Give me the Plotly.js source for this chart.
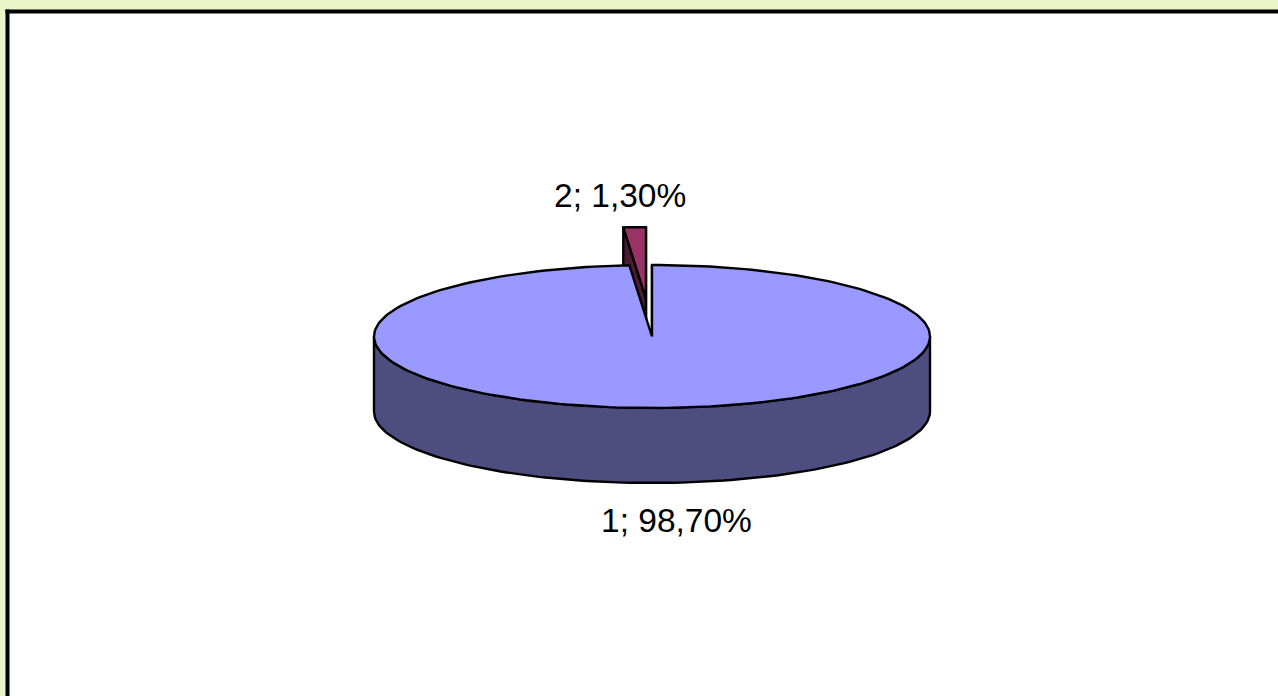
<!DOCTYPE html>
<html>
<head>
<meta charset="utf-8">
<script src="https://cdn.plot.ly/plotly-3.0.1.min.js"></script>
<style>
  html, body { margin: 0; padding: 0; overflow: hidden; background: #e9f4c9; }
  #chart { width: 1278px; height: 696px; }
</style>
</head>
<body>
<div id="chart"></div>
<script>
// ---- data ----
const categories = ['1', '2'];
const shares = [98.7, 1.3];          // percent
const explode = [0, 0.53];            // explode factor per slice

// ---- style / layout config ----
const topColors  = ['#9999FF', '#993366'];
const sideColors = ['#4D4D80', '#4D1A33'];
const pie = { cx: 652, cy: 336.5, a: 278, b: 71.5, depth: 75 };
const labelAnchors = [[676, 520.5], [620, 195]];

const DEG = Math.PI / 180;
const total = shares.reduce((s, v) => s + v, 0);

// slices: angles measured clockwise from 12 o'clock
let acc = 0;
const slices = shares.map((v, i) => {
  const t0 = acc / total * 360;
  acc += v;
  const t1 = acc / total * 360;
  const tm = (t0 + t1) / 2;
  const ox = pie.a * explode[i] * Math.sin(tm * DEG);
  const oy = -pie.b * explode[i] * Math.cos(tm * DEG);
  return { i, t0, t1, tm, ox, oy };
});

function P(s, t, down) {
  return [pie.cx + s.ox + pie.a * Math.sin(t * DEG),
          pie.cy + s.oy - pie.b * Math.cos(t * DEG) + (down ? pie.depth : 0)];
}
function C(s, down) {
  return [pie.cx + s.ox, pie.cy + s.oy + (down ? pie.depth : 0)];
}
function arc(s, ta, tb, down, n) {
  const pts = [];
  n = n || Math.max(2, Math.ceil(Math.abs(tb - ta) / 1.5));
  for (let k = 0; k <= n; k++) pts.push(P(s, ta + (tb - ta) * k / n, down));
  return pts;
}
const traces = [];
function poly(pts, fill) {
  pts = pts.concat([pts[0]]);
  traces.push({
    type: 'scatter', mode: 'lines', fill: 'toself', fillcolor: fill,
    x: pts.map(p => p[0]), y: pts.map(p => p[1]),
    line: { color: '#000000', width: 2.4 }, hoverinfo: 'skip', showlegend: false
  });
}

// draw back slices first
const order = slices.slice().sort((p, q) => Math.cos(q.tm * DEG) - Math.cos(p.tm * DEG));
order.forEach(s => {
  // radial faces
  if (Math.sin(s.t0 * DEG) <= 1e-9) {
    poly([C(s, false), P(s, s.t0, false), P(s, s.t0, true), C(s, true)], sideColors[s.i]);
  }
  if (Math.sin(s.t1 * DEG) >= -1e-9) {
    poly([C(s, false), P(s, s.t1, false), P(s, s.t1, true), C(s, true)], sideColors[s.i]);
  }
  // outer wall (front half only: 90..270)
  const w0 = Math.max(s.t0, 90), w1 = Math.min(s.t1, 270);
  if (w1 > w0) {
    const top = arc(s, w0, w1, false);
    const bot = arc(s, w1, w0, true);
    poly(top.concat(bot), sideColors[s.i]);
  }
  // top face
  poly([C(s, false)].concat(arc(s, s.t0, s.t1, false)), topColors[s.i]);
});

const annotations = slices.map(s => ({
  x: labelAnchors[s.i][0], y: labelAnchors[s.i][1], xref: 'x', yref: 'y',
  text: categories[s.i] + '; ' + shares[s.i].toFixed(2).replace('.', ',') + '%',
  showarrow: false, xanchor: 'center', yanchor: 'middle',
  font: { family: 'Liberation Sans, Arial, sans-serif', size: 33.5, color: '#000000' }
}));

const W = 1278, H = 696;
const bx = 7.5 / W, by = 1 - 11.5 / H;
const layout = {
  width: W, height: H,
  margin: { l: 0, r: 0, t: 0, b: 0 },
  paper_bgcolor: '#e9f4c9', plot_bgcolor: 'rgba(0,0,0,0)',
  xaxis: { range: [0, W], visible: false, fixedrange: true },
  yaxis: { range: [H, 0], visible: false, fixedrange: true },
  showlegend: false,
  shapes: [
    { type: 'rect', xref: 'paper', yref: 'paper', x0: bx, x1: 1, y0: 0, y1: by,
      fillcolor: '#ffffff', line: { width: 0 }, layer: 'below' },
    { type: 'line', xref: 'paper', yref: 'paper', x0: bx, x1: bx, y0: 0, y1: by + 2 / H,
      line: { color: '#000000', width: 4 }, layer: 'below' },
    { type: 'line', xref: 'paper', yref: 'paper', x0: bx - 2 / W, x1: 1, y0: by, y1: by,
      line: { color: '#000000', width: 4 }, layer: 'below' }
  ],
  annotations: annotations
};

Plotly.newPlot('chart', traces, layout, { displayModeBar: false, staticPlot: true });
</script>
</body>
</html>
